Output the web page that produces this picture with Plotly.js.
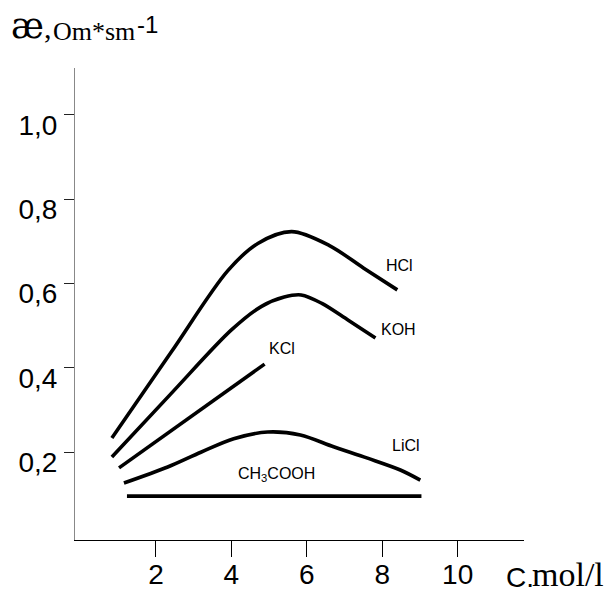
<!DOCTYPE html>
<html>
<head>
<meta charset="utf-8">
<script src="https://cdn.plot.ly/plotly-3.0.1.min.js"></script>
<style>html,body{margin:0;padding:0;background:#fff}</style>
</head>
<body>
<div id="chart" style="width:614px;height:591px"></div>
<script>
// Concentration C (mol/l) and conductivity (Om*sm^-1)
const hclX = [0.83, 2.4, 3.9, 4.7, 5.6, 6.6, 7.5, 8.4];
const hclY = [0.234, 0.437, 0.63, 0.695, 0.723, 0.69, 0.637, 0.585];
const kohX = [0.83, 2.4, 4.0, 4.8, 5.4, 5.85, 6.4, 7.1, 7.82];
const kohY = [0.189, 0.339, 0.49, 0.546, 0.568, 0.573, 0.553, 0.513, 0.471];
const kclX = [1.02, 4.88];
const kclY = [0.163, 0.409];
const liclX = [1.15, 2.31, 3.19, 4.06, 4.96, 5.83, 6.71, 7.61, 8.48, 9.01];
const liclY = [0.127, 0.165, 0.200, 0.232, 0.248, 0.241, 0.213, 0.186, 0.158, 0.134];
const acX = [1.23, 9.04];
const acY = [0.096, 0.096];

const seriesNames = ['HCl', 'KOH', 'KCl', 'LiCl', 'CH<sub>3</sub>COOH'];
const labelX = [8.45, 8.43, 5.33, 8.64, 5.20];
const labelY = [0.643, 0.490, 0.446, 0.217, 0.148];

const xTicks = [2, 4, 6, 8, 10];
const yTicks = [0.2, 0.4, 0.6, 0.8, 1.0];

const line = {color: '#000', width: 3.6, shape: 'spline', smoothing: 0.9};
const mk = (x, y) => ({x: x, y: y, mode: 'lines', line: line, hoverinfo: 'skip', showlegend: false});
const traces = [mk(hclX, hclY), mk(kohX, kohY), mk(kclX, kclY), mk(liclX, liclY), mk(acX, acY)];

const annotations = seriesNames.map((n, i) => ({
  x: labelX[i], y: labelY[i], xref: 'x', yref: 'y', text: n, showarrow: false,
  font: {family: 'Liberation Sans, Arial', size: 16, color: '#000'}
}));

// pixel -> paper helpers for the free-standing titles
const px = v => (v - 75) / 449;
const py = v => (540 - v) / 472;
const serif = 'Liberation Serif, Times New Roman';
const sans = 'Liberation Sans, Arial';
annotations.push(
  {xref: 'paper', yref: 'paper', x: px(9), y: py(26), xanchor: 'left', yanchor: 'middle', showarrow: false,
   text: 'æ<span style="font-family:Liberation Serif;font-size:30px">,</span>',
   font: {family: 'DejaVu Serif', size: 35, color: '#000'}},
  {xref: 'paper', yref: 'paper', x: px(51), y: py(31), xanchor: 'left', yanchor: 'middle', showarrow: false,
   text: 'Om*sm', font: {family: serif, size: 26, color: '#000'}},
  {xref: 'paper', yref: 'paper', x: px(135), y: py(25), xanchor: 'left', yanchor: 'middle', showarrow: false,
   text: '-1', font: {family: sans, size: 24, color: '#000'}},
  {xref: 'paper', yref: 'paper', x: px(504), y: py(577), xanchor: 'left', yanchor: 'middle', showarrow: false,
   height: 26, text: 'C.', font: {family: sans, size: 28, color: '#000'}},
  {xref: 'paper', yref: 'paper', x: px(530), y: py(574), xanchor: 'left', yanchor: 'middle', showarrow: false,
   height: 28, text: 'mol/l', font: {family: serif, size: 34, color: '#000'}}
);

const layout = {
  width: 614, height: 591,
  margin: {l: 75, r: 90, t: 68, b: 51},
  paper_bgcolor: '#fff', plot_bgcolor: '#fff',
  separators: ', ',
  showlegend: false,
  xaxis: {
    range: [-0.148, 11.76], showgrid: false, zeroline: false,
    showline: true, linecolor: '#000', linewidth: 1,
    ticks: 'outside', ticklen: 16, tickcolor: '#000', tickwidth: 1,
    tickvals: xTicks, ticklabelstandoff: -7,
    tickfont: {family: sans, size: 28, color: '#000'}
  },
  yaxis: {
    range: [-0.008, 1.111], showgrid: false, zeroline: false,
    showline: true, linecolor: '#888', linewidth: 1,
    ticks: 'outside', ticklen: 10, tickcolor: '#222', tickwidth: 1,
    tickvals: yTicks, tickformat: '.1f', ticklabelstandoff: 1, ticklabelshift: 10,
    tickfont: {family: sans, size: 28, color: '#000'}
  },
  annotations: annotations
};

Plotly.newPlot('chart', traces, layout, {staticPlot: true, displayModeBar: false});
</script>
</body>
</html>
